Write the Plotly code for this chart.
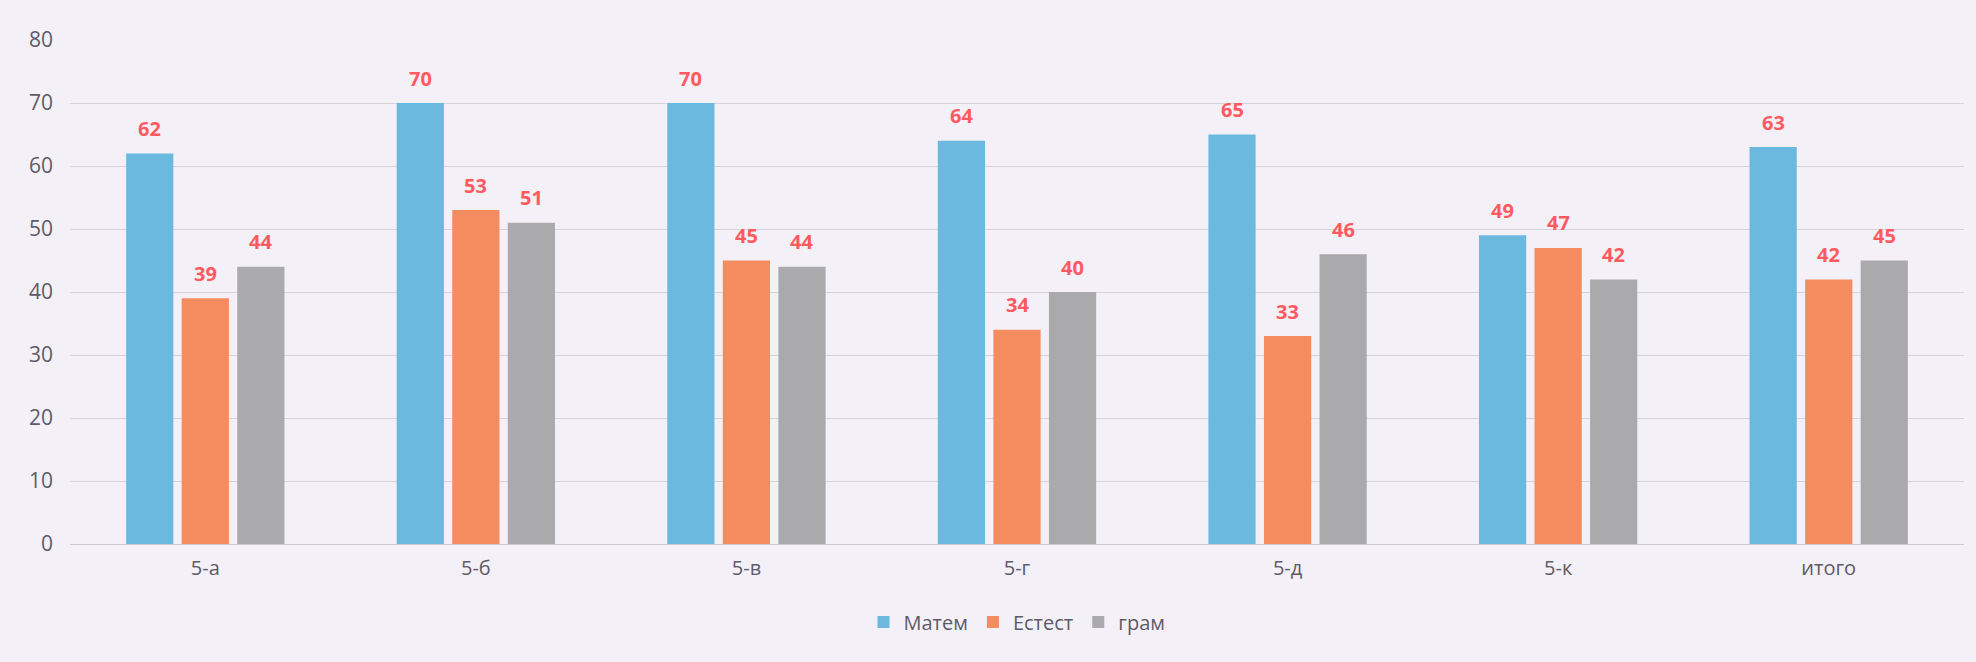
import plotly.graph_objects as go

# Dati
classes = ["5-а", "5-б", "5-в", "5-г", "5-д", "5-к", "итого"]
matem = [62, 70, 70, 64, 65, 49, 63]
estest = [39, 53, 45, 34, 33, 47, 42]
gram = [44, 51, 44, 40, 46, 42, 45]

series = [
    ("Матем", matem, "#6cb9e0"),
    ("Естест", estest, "#f58c5f"),
    ("грам", gram, "#aaaaad"),
]

bg = "#f3f0f7"
tick_color = "#5f5b66"
label_color = "#ff5a5f"
bargap = 0.384

fig = go.Figure()

for name, vals, color in series:
    fig.add_trace(
        go.Bar(
            x=classes,
            y=vals,
            name=name,
            marker=dict(color=color, line=dict(width=0)),
        )
    )

# Etichette sopra le barre (posizione calcolata dal gruppo)
slot = (1 - bargap) / len(series)
annotations = []
for j, (name, vals, color) in enumerate(series):
    for i, v in enumerate(vals):
        annotations.append(
            dict(
                x=i + (j - 1) * slot,
                y=v,
                xref="x",
                yref="y",
                text=f"<b>{v}</b>",
                showarrow=False,
                yanchor="middle",
                yshift=25,
                font=dict(size=20, color=label_color, family="Open Sans"),
            )
        )

fig.update_layout(
    width=1976,
    height=662,
    barmode="group",
    bargap=bargap,
    bargroupgap=0.15,
    paper_bgcolor=bg,
    plot_bgcolor=bg,
    margin=dict(l=70, r=12, t=40, b=118),
    font=dict(family="Open Sans", color=tick_color, size=20),
    showlegend=True,
    legend=dict(
        orientation="h",
        x=0.5,
        xanchor="center",
        y=-0.155,
        yanchor="middle",
        font=dict(size=20, color=tick_color),
        bgcolor="rgba(0,0,0,0)",
        itemwidth=30,
    ),
    annotations=annotations,
)

fig.update_xaxes(
    type="category",
    showgrid=False,
    showline=False,
    ticks="",
    ticklabelstandoff=10,
    tickfont=dict(size=20, color=tick_color),
)

fig.update_yaxes(
    range=[0, 80],
    dtick=10,
    showgrid=True,
    gridcolor="#d6d3db",
    gridwidth=1,
    zeroline=True,
    zerolinecolor="#ccc9d0",
    zerolinewidth=1,
    showline=False,
    ticks="",
    ticklabelstandoff=16,
    tickfont=dict(size=21, color=tick_color),
)

fig.write_html(
    "out.html",
    config={"displayModeBar": False},
    post_script="document.body.style.margin='0';document.body.style.overflow='hidden';",
)
